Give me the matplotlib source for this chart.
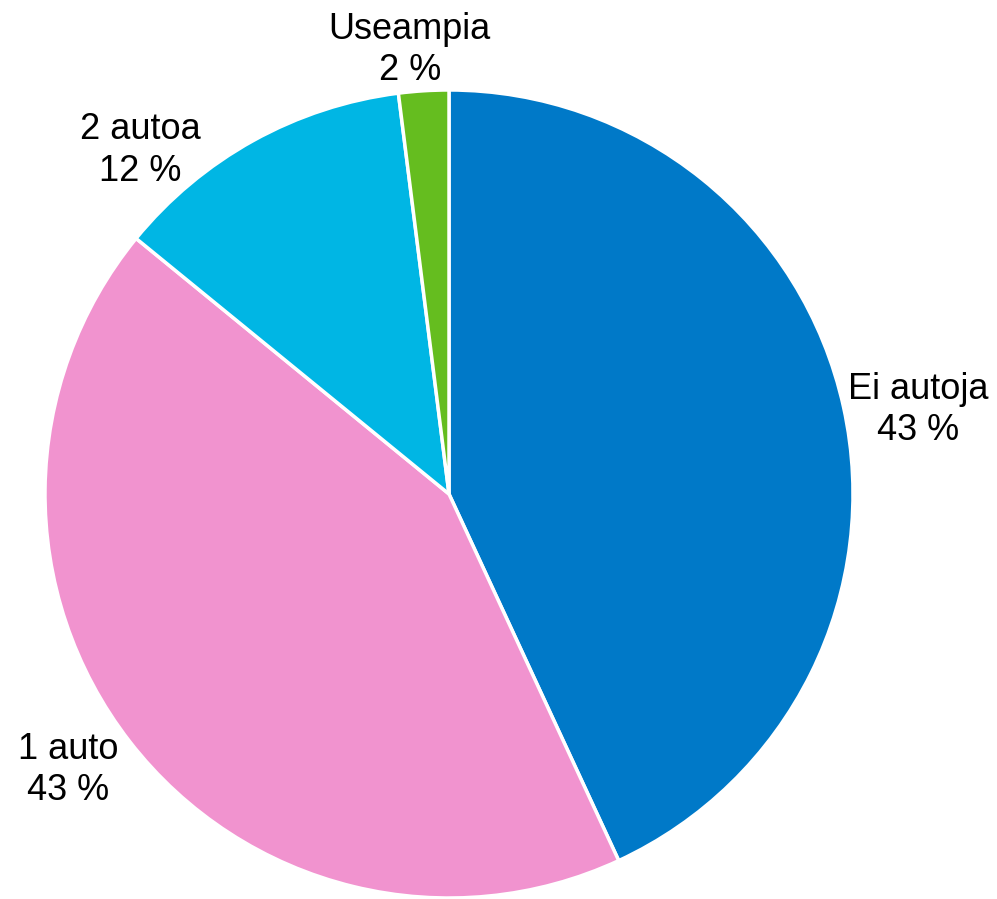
#!/usr/bin/env python3
# -*- coding: utf-8 -*-
# piirakkakaavio: autojen määrä kotitaloudessa
import matplotlib.pyplot as plt

categories = ['Ei autoja', '1 auto', '2 autoa', 'Useampia']
values = [43.1, 42.8, 12.1, 2.0]
pct_labels = ['43 %', '43 %', '12 %', '2 %']
colors = ['#0079C8', '#F193CF', '#00B6E4', '#65BD1F']

# tekstien paikat (akselin yksiköissä, säde = 1)
label_pos = [(1.161, 0.208), (-0.943, -0.683), (-0.765, 0.851), (-0.097, 1.099)]


def draw_pie():
    plt.rcParams['font.family'] = ['Liberation Sans', 'DejaVu Sans']
    fig = plt.figure(figsize=(9.97, 8.99), dpi=100)
    ax = fig.add_axes([45 / 997, 1 / 899, 808 / 997, 808 / 899])
    ax.pie(values, colors=colors, startangle=90, counterclock=False,
           radius=1, center=(0, 0),
           wedgeprops=dict(edgecolor='white', linewidth=2.5))
    for name, pct, (x, y) in zip(categories, pct_labels, label_pos):
        ax.text(x, y, name + '\n' + pct, ha='center', va='center',
                fontsize=26, linespacing=1.25, clip_on=False)
    ax.set_xlim(-1, 1)
    ax.set_ylim(-1, 1)
    ax.set_aspect('equal')
    ax.axis('off')
    fig.savefig('out.png', dpi=100)


def main():
    draw_pie()


if __name__ == "__main__":
    main()
